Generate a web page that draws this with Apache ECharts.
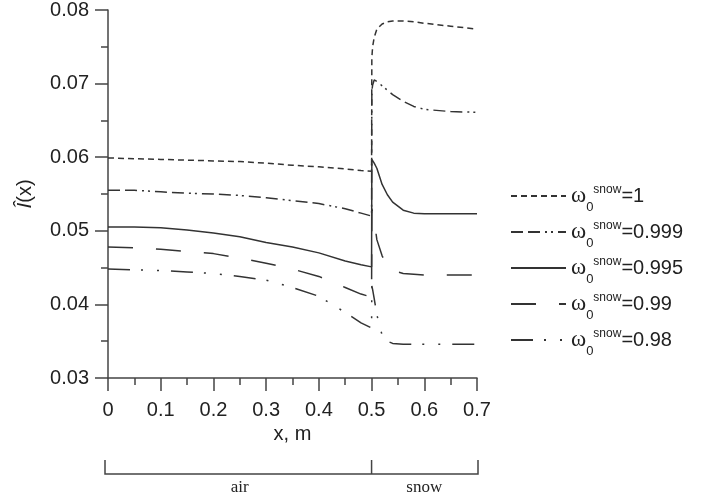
<!DOCTYPE html>
<html>
<head>
<meta charset="utf-8">
<script src="https://cdn.jsdelivr.net/npm/echarts@6/dist/echarts.min.js"></script>
<style>
  html, body { margin: 0; padding: 0; background: #fff; }
  #chart { width: 702px; height: 496px; }
</style>
</head>
<body>
<div id="chart"></div>
<script>
// x positions (m): air layer up to 0.5, then the snow layer
const xAir = [0, 0.05, 0.1, 0.15, 0.2, 0.25, 0.3, 0.35, 0.4, 0.45, 0.48, 0.5]
const xSnow = [0.5005, 0.502, 0.505, 0.51, 0.52, 0.53, 0.54, 0.56, 0.58, 0.6, 0.65, 0.7]

// single scattering albedo of snow, one curve each
const omegas = ['1', '0.999', '0.995', '0.99', '0.98']

// I^(x)
const air1 = [0.0599, 0.0598, 0.0597, 0.0596, 0.0595, 0.0594, 0.0592, 0.0589, 0.0587, 0.0584, 0.0582, 0.0581]
const snow1 = [0.0735, 0.0750, 0.0763, 0.0774, 0.0781, 0.0784, 0.0785, 0.0785, 0.0784, 0.0782, 0.0778, 0.0774]

const air999 = [0.0555, 0.0555, 0.0553, 0.0551, 0.0550, 0.0548, 0.0545, 0.0541, 0.0537, 0.0530, 0.0524, 0.0520]
const snow999 = [0.0690, 0.0698, 0.0705, 0.0703, 0.0697, 0.0691, 0.0685, 0.0676, 0.0669, 0.0665, 0.0662, 0.0661]

const air995 = [0.0505, 0.0505, 0.0504, 0.0501, 0.0497, 0.0492, 0.0484, 0.0478, 0.0470, 0.0459, 0.0454, 0.0451]
const snow995 = [0.0597, 0.0596, 0.0592, 0.0585, 0.0563, 0.0549, 0.0539, 0.0528, 0.0524, 0.0523, 0.0523, 0.0523]

const air99 = [0.0478, 0.0477, 0.0475, 0.0472, 0.0469, 0.0463, 0.0456, 0.0448, 0.0438, 0.0423, 0.0414, 0.0410]
const snow99 = [0.0530, 0.0528, 0.0515, 0.0488, 0.0466, 0.0452, 0.0446, 0.0442, 0.0441, 0.0440, 0.0440, 0.0440]

const air98 = [0.0448, 0.0447, 0.0446, 0.0444, 0.0442, 0.0438, 0.0433, 0.0423, 0.0411, 0.0389, 0.0375, 0.0368]
const snow98 = [0.0425, 0.0420, 0.0408, 0.0386, 0.0358, 0.0350, 0.0347, 0.0346, 0.0346, 0.0346, 0.0346, 0.0346]

const airValues = [air1, air999, air995, air99, air98]
const snowValues = [snow1, snow999, snow995, snow99, snow98]

// dash patterns for the five curves
const dashes = [[6, 4], [12, 5, 12, 5, 2, 4, 2, 5], 'solid', [25, 23], [22, 11, 2, 14, 2, 12]]

// axis ranges
const xMin = 0, xMax = 0.7, xStep = 0.1
const yMin = 0.03, yMax = 0.08, yStep = 0.01

// layer labels under the axis
const layers = [{ name: 'air', from: 0, to: 0.5 }, { name: 'snow', from: 0.5, to: 0.7 }]

const chart = echarts.init(document.getElementById('chart'))

const series = omegas.map((w, k) => ({
  name: w,
  type: 'line',
  symbol: 'none',
  smooth: false,
  data: xAir.map((x, i) => [x, airValues[k][i]])
    .concat(xSnow.map((x, i) => [x, snowValues[k][i]])),
  lineStyle: { color: '#333', width: 1.5, type: dashes[k] },
  itemStyle: { color: '#333' }
}))

const option = {
  animation: false,
  grid: { left: 108, right: 225, top: 10, bottom: 118 },
  legend: {
    orient: 'vertical',
    left: 505,
    top: 173,
    itemWidth: 55,
    itemHeight: 14,
    itemGap: 0,
    data: omegas,
    itemStyle: { opacity: 0 },
    formatter: n => '{w|ω}{sub|0}{sup|snow}{v|=' + n + '}',
    textStyle: {
      color: '#222',
      rich: {
        w: { fontFamily: 'Liberation Serif', fontSize: 23, lineHeight: 36, color: '#222' },
        sub: { fontFamily: 'Liberation Sans', fontSize: 13, lineHeight: 13, padding: [23, 0, 0, 0], color: '#222' },
        sup: { fontFamily: 'Liberation Sans', fontSize: 12, lineHeight: 12, padding: [6, 0, 18, 0], color: '#222' },
        v: { fontFamily: 'Liberation Sans', fontSize: 20, lineHeight: 36, color: '#222' }
      }
    }
  },
  xAxis: {
    type: 'value',
    min: xMin,
    max: xMax,
    interval: xStep,
    name: 'x, m',
    nameLocation: 'middle',
    nameGap: 43,
    nameTextStyle: { fontFamily: 'Liberation Sans', fontSize: 20, color: '#222' },
    axisLine: { lineStyle: { color: '#444', width: 1.5 } },
    axisTick: { length: 13, lineStyle: { color: '#444', width: 1.5 } },
    minorTick: { show: true, splitNumber: 2, length: 7, lineStyle: { color: '#444', width: 1.5 } },
    splitLine: { show: false },
    axisLabel: { fontFamily: 'Liberation Sans', fontSize: 20, color: '#222', margin: 22 }
  },
  yAxis: {
    type: 'value',
    min: yMin,
    max: yMax,
    interval: yStep,
    name: '{i|Î}(x)',
    nameLocation: 'middle',
    nameRotate: 90,
    nameGap: 72,
    nameTextStyle: {
      fontFamily: 'Liberation Sans', fontSize: 20, color: '#222',
      rich: { i: { fontFamily: 'Liberation Sans', fontSize: 21, fontStyle: 'italic', color: '#222' } }
    },
    axisLine: { show: true, lineStyle: { color: '#444', width: 1.5 } },
    axisTick: { show: true, length: 13, lineStyle: { color: '#444', width: 1.5 } },
    minorTick: { show: true, splitNumber: 2, length: 7, lineStyle: { color: '#444', width: 1.5 } },
    splitLine: { show: false },
    axisLabel: { fontFamily: 'Liberation Sans', fontSize: 20, color: '#222', margin: 19, formatter: v => v.toFixed(2) }
  },
  series: series
}

chart.setOption(option)

// bracket showing the air / snow layers, placed from the x axis scale
const drawLayers = () => {
  const yTop = 460, yLine = 474
  const elements = []
  const xs = [layers[0].from, layers[0].to, layers[1].to].map(v => chart.convertToPixel({ xAxisIndex: 0 }, v))
  elements.push({
    type: 'polyline',
    shape: { points: [[xs[0] - 3, yTop], [xs[0] - 3, yLine], [xs[2] + 1, yLine], [xs[2] + 1, yTop]] },
    style: { stroke: '#444', lineWidth: 1.5, fill: null }
  })
  elements.push({
    type: 'line',
    shape: { x1: xs[1], y1: yTop, x2: xs[1], y2: yLine },
    style: { stroke: '#444', lineWidth: 1.5 }
  })
  layers.forEach(l => {
    const a = chart.convertToPixel({ xAxisIndex: 0 }, l.from)
    const b = chart.convertToPixel({ xAxisIndex: 0 }, l.to)
    elements.push({
      type: 'text',
      x: (a + b) / 2,
      y: 479,
      style: { text: l.name, fontFamily: 'Liberation Serif', fontSize: 17, fill: '#222', align: 'center', verticalAlign: 'top' }
    })
  })
  chart.setOption({ graphic: elements })
}
drawLayers()
</script>
</body>
</html>
